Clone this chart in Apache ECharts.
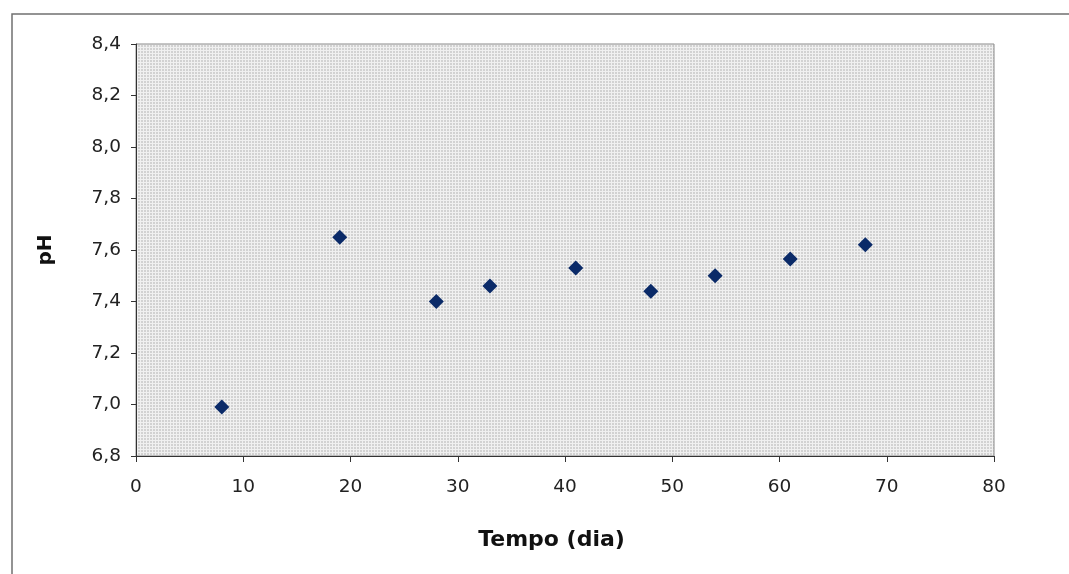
<!DOCTYPE html>
<html>
<head>
<meta charset="utf-8">
<script src="https://cdn.jsdelivr.net/npm/echarts@6/dist/echarts.min.js"></script>
<style>
  html, body { margin: 0; padding: 0; background: #ffffff; }
  #chart { width: 1069px; height: 574px; }
</style>
</head>
<body>
<div id="chart"></div>
<script>
// pH measured over time (days)
const days = [8, 19, 28, 33, 41, 48, 54, 61, 68];
const phValues = [6.99, 7.65, 7.40, 7.46, 7.53, 7.44, 7.50, 7.565, 7.62];
const xTicks = [0, 10, 20, 30, 40, 50, 60, 70, 80];
const yTicks = [6.8, 7.0, 7.2, 7.4, 7.6, 7.8, 8.0, 8.2, 8.4];

// Fine dotted grey fill for the plotting area
function makePattern() {
  const c = document.createElement('canvas');
  c.width = 3; c.height = 3;
  const ctx = c.getContext('2d');
  ctx.fillStyle = '#d2d2d2';
  ctx.fillRect(0, 0, 3, 3);
  ctx.fillStyle = '#f0f0f0';
  ctx.fillRect(2, 0, 1, 3);
  ctx.fillRect(0, 2, 3, 1);
  return c;
}

const chart = echarts.init(document.getElementById('chart'), null, { renderer: 'canvas' });
const fontFamily = '"DejaVu Sans", Verdana, sans-serif';

chart.setOption({
  animation: false,
  backgroundColor: '#ffffff',
  grid: {
    left: 136, top: 44, width: 858, height: 412,
    show: true,
    backgroundColor: { image: makePattern(), repeat: 'repeat' },
    borderColor: '#8a8a8a', borderWidth: 1
  },
  graphic: [{
    type: 'rect',
    shape: { x: 12, y: 14, width: 1100, height: 620 },
    style: { fill: null, stroke: '#707070', lineWidth: 1.5 },
    silent: true
  }],
  xAxis: {
    type: 'value',
    min: xTicks[0], max: xTicks[xTicks.length - 1], interval: 10,
    name: 'Tempo (dia)',
    nameLocation: 'middle', nameGap: 73,
    nameTextStyle: {
      fontFamily, fontSize: 22, fontWeight: 'bold', color: '#111',
      padding: [0, 27, 0, 0]
    },
    axisLine: { show: true, lineStyle: { color: '#333', width: 1 } },
    axisTick: { show: true, length: 6, inside: false, lineStyle: { color: '#333' } },
    axisLabel: { fontFamily, fontSize: 18.5, color: '#222', margin: 22 },
    splitLine: { show: false }
  },
  yAxis: {
    type: 'value',
    min: yTicks[0], max: yTicks[yTicks.length - 1], interval: 0.2,
    name: 'pH',
    nameLocation: 'middle', nameGap: 80, nameRotate: 90,
    nameTextStyle: { fontFamily, fontSize: 20, fontWeight: 'bold', color: '#111' },
    axisLine: { show: true, lineStyle: { color: '#333', width: 1 } },
    axisTick: { show: true, length: 5, lineStyle: { color: '#333' } },
    axisLabel: {
      fontFamily, fontSize: 18.5, color: '#222', margin: 15,
      formatter: v => v.toFixed(1).replace('.', ',')
    },
    splitLine: { show: false }
  },
  series: [{
    type: 'scatter',
    symbol: 'diamond',
    symbolSize: [15, 15],
    itemStyle: { color: '#0a2a68', opacity: 1 },
    data: days.map((d, i) => [d, phValues[i]])
  }]
});
</script>
</body>
</html>
